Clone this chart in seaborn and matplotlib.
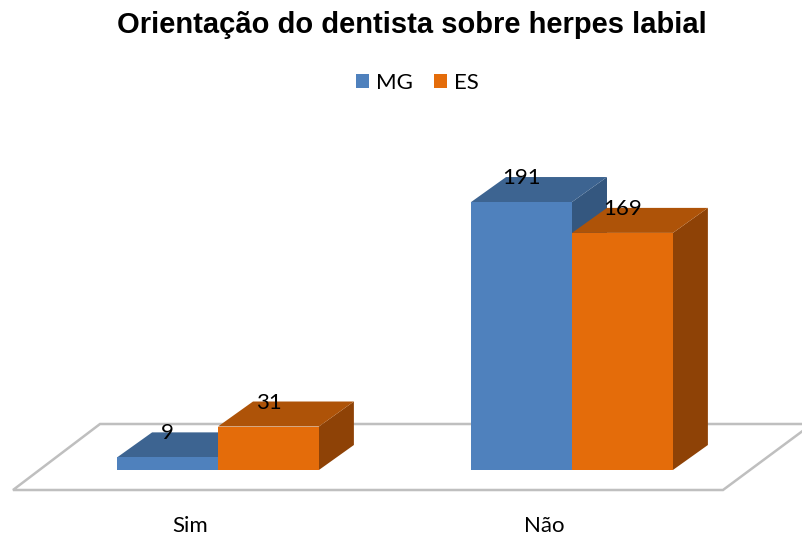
# Orientação do dentista sobre herpes labial - 3D-look bar chart (Excel style)
import numpy as np
import pandas as pd
import matplotlib
matplotlib.use('Agg')
import matplotlib.pyplot as plt
import matplotlib.transforms as mtransforms
from matplotlib.patches import Polygon
import seaborn as sns

# Data
respostas = ['Sim', 'Não']
estados = ['MG', 'ES']
mg_vals = [9, 191]
es_vals = [31, 169]

front_cols = {'MG': '#4F81BD', 'ES': '#E46C0A'}
top_cols = {'MG': '#3D6491', 'ES': '#AE5308'}
side_cols = {'MG': '#34577F', 'ES': '#8E4206'}

df = pd.DataFrame({
    'resposta': respostas * 2,
    'estado': ['MG'] * len(respostas) + ['ES'] * len(respostas),
    'n': mg_vals + es_vals,
})

sns.set_theme(style='white')
plt.rcParams['font.family'] = ['Lato', 'DejaVu Sans']

W, H = 802, 539
fig = plt.figure(figsize=(W / 100, H / 100), dpi=100)
# axes placed so that y=0 sits on the floor line and categories land under the groups
ax = fig.add_axes([41 / W, (H - 470) / H, 708 / W, 280.6 / H])

sns.barplot(data=df, x='resposta', y='n', hue='estado', order=respostas,
            hue_order=estados, palette=front_cols, width=0.57, saturation=1,
            linewidth=0, ax=ax)
ax.set_xlim(-0.5, 1.5)
ax.set_ylim(0, 200)
ax.set_xlabel('')
ax.set_ylabel('')
ax.set_xticks([])
ax.set_yticks([])
sns.despine(ax=ax, left=True, bottom=True)

# floor (pixel coords, origin top-left)
pix = mtransforms.Affine2D().scale(1 / W, -1 / H).translate(0, 1) + fig.transFigure
floor = Polygon([(13, 490), (723, 490), (812, 424), (100, 424)], closed=True,
                facecolor='white', edgecolor='#BFBFBF', linewidth=1.8,
                transform=pix, zorder=0.5, clip_on=False)
ax.add_patch(floor)

# depth faces built from the seaborn bars
dx, dy = 35, 25
ident = mtransforms.IdentityTransform()
for k, (est, cont) in enumerate(zip(estados, ax.containers)):
    for p in cont.patches:
        p.set_zorder(2 + 2 * k)
        x0, x1, h = p.get_x(), p.get_x() + p.get_width(), p.get_height()
        (ax0, ay0), (ax1, ay1) = ax.transData.transform([(x0, 0), (x1, h)])
        top = [(ax0, ay1), (ax1, ay1), (ax1 + dx, ay1 + dy), (ax0 + dx, ay1 + dy)]
        side = [(ax1, ay0), (ax1, ay1), (ax1 + dx, ay1 + dy), (ax1 + dx, ay0 + dy)]
        ax.add_patch(Polygon(side, closed=True, facecolor=side_cols[est],
                             edgecolor='none', transform=ident, clip_on=False,
                             zorder=1.5 + 2 * k))
        ax.add_patch(Polygon(top, closed=True, facecolor=top_cols[est],
                             edgecolor='none', transform=ident, clip_on=False,
                             zorder=1.5 + 2 * k))
    ax.bar_label(cont, padding=10, fontsize=16, color='black', zorder=10)

# category labels (shifted left like the 3D projection)
lab_off = mtransforms.ScaledTranslation(-0.275, -0.62, fig.dpi_scale_trans)
for i, r in enumerate(respostas):
    ax.text(i, 0, r, ha='center', va='baseline', fontsize=16, color='black',
            transform=ax.transData + lab_off, clip_on=False)

sns.move_legend(ax, 'center', bbox_to_anchor=(417.5 / W, 1 - 82.5 / H),
                bbox_transform=fig.transFigure, ncol=2, frameon=False, title=None,
                fontsize=16, handlelength=0.6, handleheight=0.6,
                handletextpad=0.3, columnspacing=0.95)
for t in ax.get_legend().get_texts():
    t.set_color('black')

fig.text(412 / W, 1 - 33.3 / H, 'Orientação do dentista sobre herpes labial',
         ha='center', va='baseline', fontsize=21, fontweight='bold',
         color='black', family=['Liberation Sans', 'DejaVu Sans'])

fig.savefig('out.png', dpi=100)
